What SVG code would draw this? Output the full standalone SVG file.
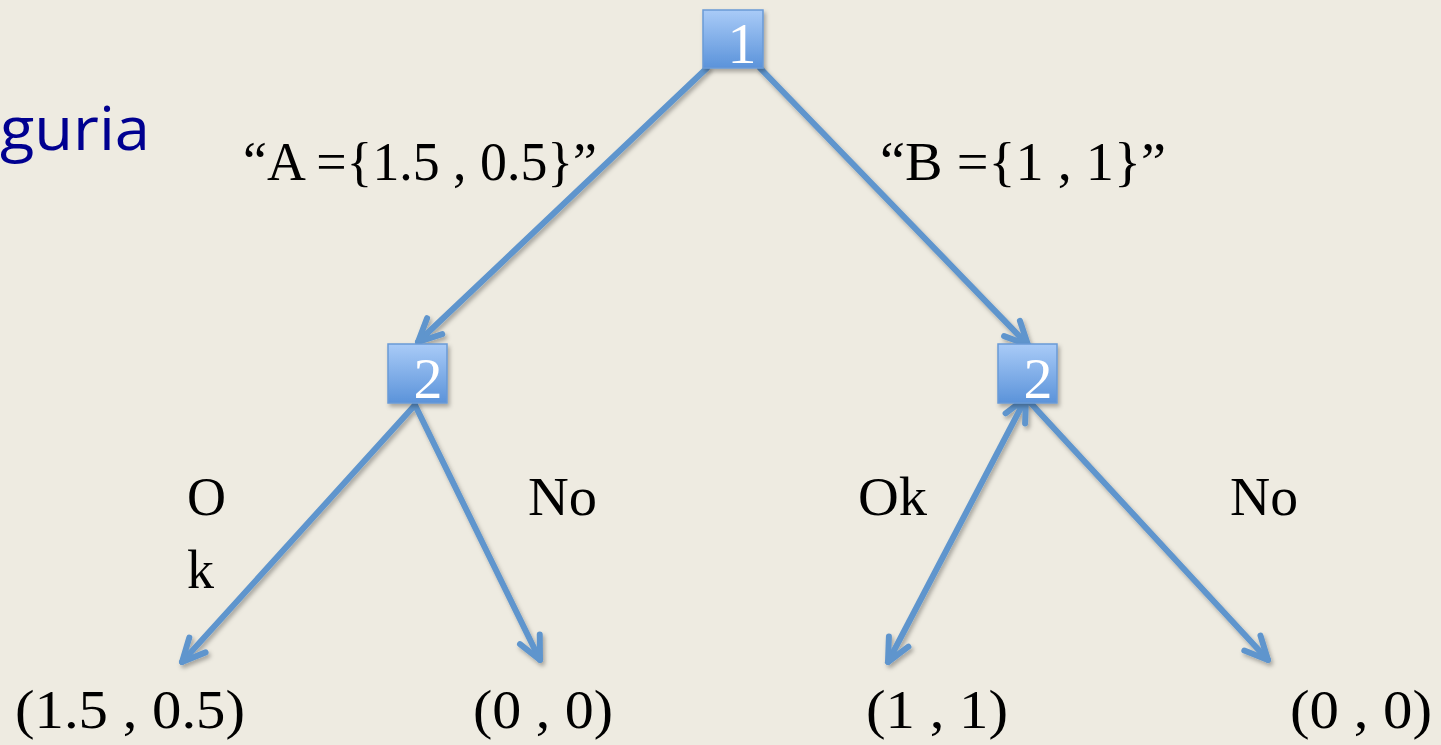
<svg xmlns="http://www.w3.org/2000/svg" width="1441" height="745" viewBox="0 0 1441 745">
<defs>
<linearGradient id="nodeGrad" x1="0" y1="0" x2="0" y2="1">
<stop offset="0" stop-color="#a9cbf7"/>
<stop offset="1" stop-color="#5b93da"/>
</linearGradient>
<filter id="sh" x="-20%" y="-20%" width="150%" height="150%">
<feDropShadow dx="2" dy="3" stdDeviation="2" flood-color="#000" flood-opacity="0.3"/>
</filter>
<marker id="arr" viewBox="0 0 30 30" refX="27" refY="15" markerWidth="30" markerHeight="30" markerUnits="userSpaceOnUse" orient="auto-start-reverse">
<path d="M4,4 L27,15 L4,26" fill="none" stroke="#5f95cd" stroke-width="6" stroke-linecap="round" stroke-linejoin="round"/>
</marker>
<style>
.t{font-family:"Liberation Serif","DejaVu Serif",serif;font-size:54px;fill:#000}
.n{font-family:"Liberation Serif",serif;font-size:58px;fill:#fff;text-anchor:middle}
.e{stroke:#5f95cd;stroke-width:6;fill:none;stroke-linecap:round}
.box{fill:url(#nodeGrad);stroke:#6a9ad6;stroke-width:1.5}
</style>
</defs>
<rect width="1441" height="745" fill="#eeebe1"/>
<text x="0" y="150" font-family="Open Sans, Liberation Sans, sans-serif" font-size="60" fill="#000090" textLength="150" lengthAdjust="spacingAndGlyphs">guria</text>
<g id="connectors" filter="url(#sh)">
<line class="e" x1="707" y1="68" x2="418" y2="342" marker-end="url(#arr)"/>
<line class="e" x1="760" y1="68" x2="1028" y2="345" marker-end="url(#arr)"/>
<line class="e" x1="415" y1="405" x2="182" y2="662" marker-end="url(#arr)"/>
<line class="e" x1="415" y1="405" x2="540" y2="660" marker-end="url(#arr)"/>
<line class="e" x1="1026" y1="398" x2="888" y2="662" marker-start="url(#arr)" marker-end="url(#arr)"/>
<line class="e" x1="1026" y1="398" x2="1268" y2="660" marker-end="url(#arr)"/>
</g>
<g id="node1" filter="url(#sh)">
<rect class="box" x="703" y="10" width="60" height="58"/>
<text class="n" x="742" y="63">1</text>
</g>
<g id="node2a" filter="url(#sh)">
<rect class="box" x="388" y="344" width="59" height="59"/>
<text class="n" x="428" y="398">2</text>
</g>
<g id="node2b" filter="url(#sh)">
<rect class="box" x="998" y="344" width="59" height="59"/>
<text class="n" x="1038" y="398">2</text>
</g>
<g id="labels">
<text class="t" x="243" y="180" textLength="354" lengthAdjust="spacingAndGlyphs">“A ={1.5 , 0.5}”</text>
<text class="t" x="880" y="180" textLength="286" lengthAdjust="spacingAndGlyphs">“B ={1 , 1}”</text>
<text class="t" x="187" y="515">O</text>
<text class="t" x="187" y="588">k</text>
<text class="t" x="528" y="515" textLength="69" lengthAdjust="spacingAndGlyphs">No</text>
<text class="t" x="858" y="515" textLength="69" lengthAdjust="spacingAndGlyphs">Ok</text>
<text class="t" x="1230" y="515" textLength="68" lengthAdjust="spacingAndGlyphs">No</text>
<text class="t" x="15" y="728" textLength="230" lengthAdjust="spacingAndGlyphs">(1.5 , 0.5)</text>
<text class="t" x="473" y="728" textLength="140" lengthAdjust="spacingAndGlyphs">(0 , 0)</text>
<text class="t" x="866" y="728" textLength="142" lengthAdjust="spacingAndGlyphs">(1 , 1)</text>
<text class="t" x="1290" y="728" textLength="142" lengthAdjust="spacingAndGlyphs">(0 , 0)</text>
</g>
</svg>
